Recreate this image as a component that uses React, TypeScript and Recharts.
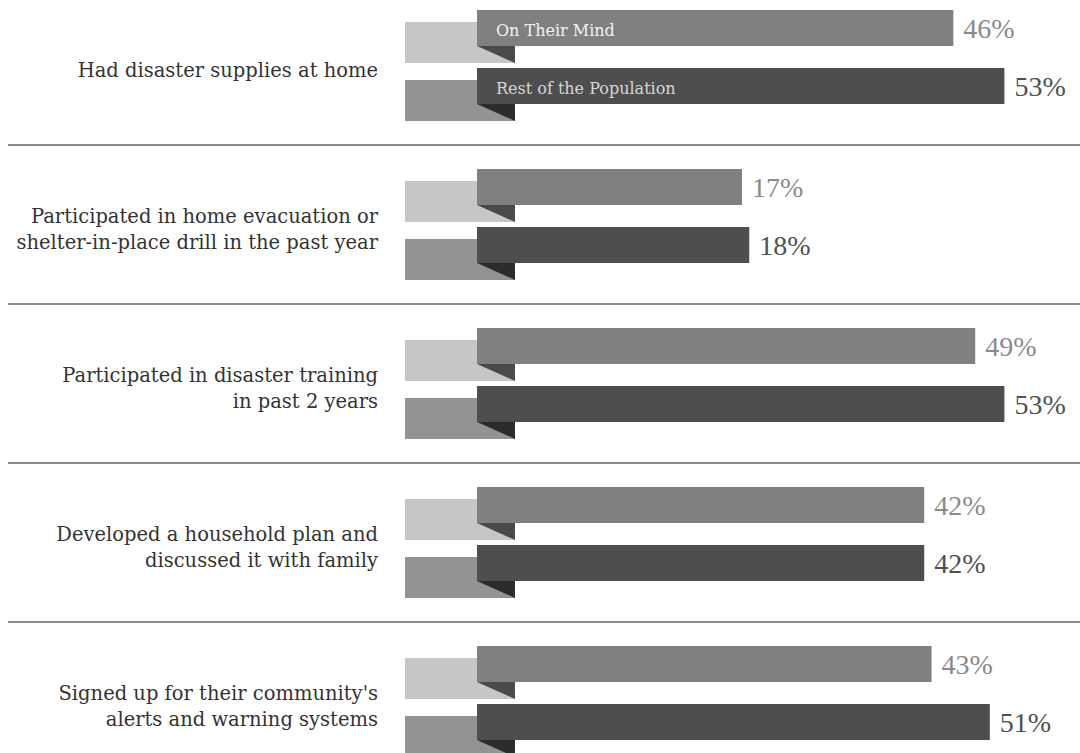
import React from 'react';
import { BarChart, Bar, XAxis, YAxis, LabelList } from 'recharts';

// categories (split in display lines) and the two series, in %
const categories = [
  ['Had disaster supplies at home'],
  ['Participated in home evacuation or', 'shelter-in-place drill in the past year'],
  ['Participated in disaster training', 'in past 2 years'],
  ['Developed a household plan and', 'discussed it with family'],
  ["Signed up for their community's", 'alerts and warning systems'],
];
const onTheirMind = [46, 17, 49, 42, 43];
const restOfPopulation = [53, 18, 53, 42, 51];
const seriesNames = ['On Their Mind', 'Rest of the Population'];

// the ribbons are not drawn to zero, the axis starts below it
const AXIS_MIN = -19.35;
const AXIS_MAX = 62;

const data = categories.map((lines, i) => ({
  label: lines.join(' '),
  lines,
  mind: onTheirMind[i],
  rest: restOfPopulation[i],
}));

const CHART_W = 1080;
const CHART_H = 795;
const BAND = CHART_H / categories.length;
const SERIF = '"DejaVu Serif", serif';

const palette = [
  { stub: '#c6c6c6', main: '#808080', fold: '#4a4a4a', text: '#8a8a8a', legend: '#f2f2f2' },
  { stub: '#939393', main: '#4e4e4e', fold: '#2c2c2c', text: '#505050', legend: '#d6d6d6' },
];

const Ribbon = (props: any) => {
  const { x, y, width, height, index, series } = props;
  const c = palette[series];
  const mainH = 36;
  const stubW = 72;
  const foldW = 38;
  return (
    <g>
      <rect x={x - stubW} y={y + 12} width={stubW + foldW} height={height - 12} fill={c.stub} />
      <rect x={x} y={y} width={width} height={mainH} fill={c.main} />
      <polygon
        points={`${x},${y + mainH} ${x + foldW},${y + mainH} ${x + foldW},${y + height}`}
        fill={c.fold}
      />
      {index === 0 && (
        <text x={x + 19} y={y + 26} fill={c.legend} fontFamily={SERIF} fontSize={16}>
          {seriesNames[series]}
        </text>
      )}
    </g>
  );
};

const ValueLabel = (series: number) => (props: any) => {
  const { x, y, width, value } = props;
  return (
    <text
      x={x + width + 10}
      y={y + 18}
      dominantBaseline="central"
      fill={palette[series].text}
      fontFamily='"Liberation Serif", serif'
      fontSize={28}
    >
      {`${value}%`}
    </text>
  );
};

const CategoryTick = (props: any) => {
  const { y, index } = props;
  const lines = categories[index];
  const mid = y + 11;
  const first = mid - ((lines.length - 1) * 26) / 2;
  return (
    <g>
      {lines.map((l, i) => (
        <text
          key={i}
          x={378}
          y={first + i * 26}
          textAnchor="end"
          fill="#333"
          fontFamily={SERIF}
          fontSize={19.5}
        >
          {l}
        </text>
      ))}
      {index < categories.length - 1 && (
        <line x1={8} x2={CHART_W} y1={y + BAND / 2} y2={y + BAND / 2} stroke="#666" strokeWidth={1.5} />
      )}
    </g>
  );
};

export default function App() {
  return (
    <div style={{ position: 'fixed', left: 0, top: 0, width: CHART_W, height: 753, overflow: 'hidden', background: '#fff' }}>
      <div style={{ marginTop: -14 }}>
        <BarChart
          layout="vertical"
          width={CHART_W}
          height={CHART_H}
          data={data}
          margin={{ top: 0, right: 10, bottom: 0, left: 0 }}
          barSize={53}
          barGap={5}
        >
          <XAxis type="number" hide domain={[AXIS_MIN, AXIS_MAX]} />
          <YAxis
            type="category"
            dataKey="label"
            width={477}
            axisLine={false}
            tickLine={false}
            tick={<CategoryTick />}
            interval={0}
          />
          <Bar
            dataKey={(d: any) => [AXIS_MIN, d.mind]}
            isAnimationActive={false}
            shape={(p: any) => <Ribbon {...p} series={0} />}
          >
            <LabelList dataKey="mind" content={ValueLabel(0)} />
          </Bar>
          <Bar
            dataKey={(d: any) => [AXIS_MIN, d.rest]}
            isAnimationActive={false}
            shape={(p: any) => <Ribbon {...p} series={1} />}
          >
            <LabelList dataKey="rest" content={ValueLabel(1)} />
          </Bar>
        </BarChart>
      </div>
    </div>
  );
}
